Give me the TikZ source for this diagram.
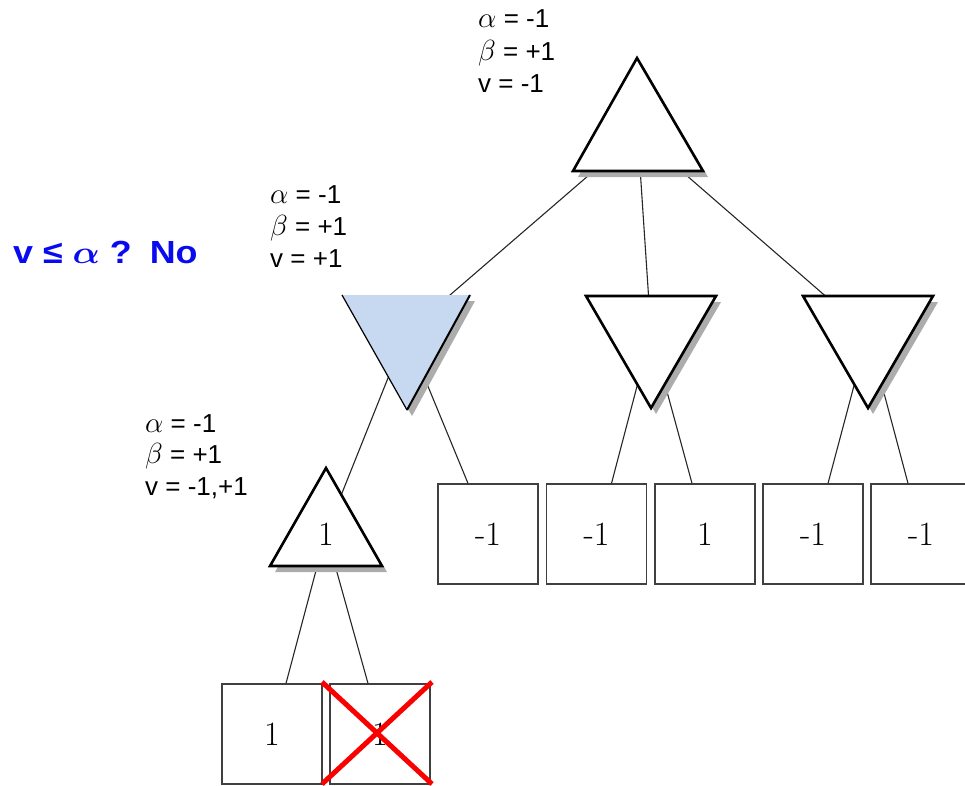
\RequirePackage{fix-cm}
\documentclass[tikz,border=0pt]{standalone}
\usepackage{fontspec}
\newfontfamily\arialf{Liberation Sans}
\usetikzlibrary{calc}
\definecolor{minblue}{RGB}{198,217,241}
\definecolor{txtblue}{RGB}{10,10,240}
\definecolor{shadowgray}{RGB}{172,172,172}
\definecolor{redx}{RGB}{250,0,0}
\newcommand{\myal}{\scalebox{1.12}{$\alpha$}}
\newcommand{\mybe}{\scalebox{1.12}{$\beta$}}
\begin{document}
\begin{tikzpicture}[x=1pt,y=-1pt,
  conn/.style={line width=1.1pt, draw=black!85},
  tri/.style={line width=2.6pt, draw=black, fill=white, line join=miter},
  shadowtri/.style={fill=shadowgray, draw=none},
  leaf/.style={draw=black!75, line width=1.3pt, fill=white, minimum width=100pt, minimum height=100pt, inner sep=0pt, font=\fontsize{34}{34}\selectfont},
  lbl/.style={anchor=base west, inner sep=0pt, font=\arialf\fontsize{26}{26}\selectfont},
  cross/.style={draw=redx, line width=5pt}]
\useasboundingbox (0,0) rectangle (965,785);

% triangle corners and centroids
\coordinate (rA) at (637,58);  \coordinate (rL) at (573,171); \coordinate (rR) at (703,171);
\coordinate (rC) at (637.7,133);
\coordinate (mAL) at (342,295); \coordinate (mAR) at (470,295); \coordinate (mAT) at (407,410);
\coordinate (mAC) at (406,333);
\coordinate (mBL) at (586,296); \coordinate (mBR) at (716,296); \coordinate (mBT) at (651,408);
\coordinate (mBC) at (651,333);
\coordinate (mCL) at (803,296); \coordinate (mCR) at (933,296); \coordinate (mCT) at (868,408);
\coordinate (mCC) at (868,333);
\coordinate (sA) at (326,468); \coordinate (sL) at (270,566); \coordinate (sR) at (382,566);
\coordinate (sC) at (326,533);

% leaves
\node[leaf] (b1) at (488,534) {-1};
\node[leaf] (b2) at (596.5,534) {-1};
\node[leaf] (b3) at (705,534) {1};
\node[leaf] (b4) at (813,534) {-1};
\node[leaf] (b5) at (921,534) {-1};
\node[leaf] (c1) at (272,734) {1};
\node[leaf] (c2) at (380,734) {1};

% connectors
\draw[conn] (rC) -- (mAC);
\draw[conn] (rC) -- (mBC);
\draw[conn] (rC) -- (mCC);
\draw[conn] (mAC) -- (sC);
\draw[conn] (mAC) -- ($(b1.north)+(-20,0)$);
\draw[conn] (mBC) -- ($(b2.north)+(15,0)$);
\draw[conn] (mBC) -- ($(b3.north)+(-13,0)$);
\draw[conn] (mCC) -- ($(b4.north)+(15,0)$);
\draw[conn] (mCC) -- ($(b5.north)+(-13,0)$);
\draw[conn] (sC) -- ($(c1.north)+(14,0)$);
\draw[conn] (sC) -- ($(c2.north)+(-12,0)$);

% shadows
\tikzset{sh/.style={shift={(5,6)}}}
\fill[shadowtri] ([sh]rA) -- ([sh]rL) -- ([sh]rR) -- cycle;
\fill[shadowtri] ([sh]mAL) -- ([sh]mAR) -- ([sh]mAT) -- cycle;
\fill[shadowtri] ([sh]mBL) -- ([sh]mBR) -- ([sh]mBT) -- cycle;
\fill[shadowtri] ([sh]mCL) -- ([sh]mCR) -- ([sh]mCT) -- cycle;
\fill[shadowtri] ([sh]sA) -- ([sh]sL) -- ([sh]sR) -- cycle;

% triangles
\draw[tri] (rA) -- (rL) -- (rR) -- cycle;
\fill[minblue] (mAL) -- (mAR) -- (mAT) -- cycle;
\draw[line width=1.2pt] (mAL) -- (mAT);
\draw[line width=2pt] (mAR) -- (mAT);
\draw[tri] (mBL) -- (mBR) -- (mBT) -- cycle;
\draw[tri] (mCL) -- (mCR) -- (mCT) -- cycle;
\draw[tri] (sA) -- (sL) -- (sR) -- cycle;
\node[inner sep=0pt, font=\fontsize{34}{34}\selectfont] (s1) at (326,534) {1};

% cross
\coordinate (x1) at (322,682); \coordinate (x2) at (432,784);
\coordinate (x3) at (432,682); \coordinate (x4) at (322,784);
\draw[cross] (x1) -- (x2);
\draw[cross] (x3) -- (x4);

% labels
\node[lbl] (t1) at (478,27) {\myal{} = -1};
\node[lbl] (t2) at (478,60) {\mybe{} = +1};
\node[lbl] (t3) at (478,92) {v = -1};
\node[lbl] (m1) at (270,203) {\myal{} = -1};
\node[lbl] (m2) at (270,235) {\mybe{} = +1};
\node[lbl] (m3) at (270,267) {v = +1};
\node[lbl] (l1) at (145,432) {\myal{} = -1};
\node[lbl] (l2) at (145,463) {\mybe{} = +1};
\node[lbl] (l3) at (145,495) {v = -1,+1};

\node[anchor=base west, inner sep=0pt, text=txtblue, font=\arialf\bfseries\fontsize{32}{32}\selectfont] (q) at (13,263) {\scalebox{1.12}[1]{v ≤ {\boldmath$\alpha$} ?\hspace{0.5em}No}};
\end{tikzpicture}
\end{document}
